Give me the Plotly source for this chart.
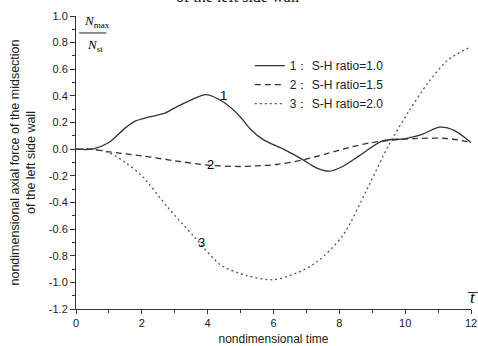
import plotly.graph_objects as go

# ---- data ----
t1 = [0, 0.5, 1.0, 1.5, 1.8, 2.2, 2.7, 3.0, 3.5, 3.95, 4.5, 5.0, 5.3, 5.7, 6.3, 6.9, 7.3, 7.7, 8.1, 8.6, 9.3, 10.0, 10.5, 11.05, 11.5, 12.0]
v1 = [0, 0, 0.05, 0.16, 0.21, 0.24, 0.27, 0.31, 0.37, 0.41, 0.35, 0.24, 0.15, 0.07, 0.0, -0.08, -0.14, -0.165, -0.13, -0.05, 0.06, 0.08, 0.11, 0.165, 0.14, 0.05]

t2 = [0, 0.5, 1.0, 2.0, 3.0, 4.0, 5.0, 5.5, 6.1, 6.9, 7.6, 8.3, 9.0, 9.5, 10.3, 11.3, 12.0]
v2 = [0, 0, -0.02, -0.05, -0.087, -0.12, -0.13, -0.125, -0.115, -0.08, -0.035, 0.013, 0.05, 0.065, 0.08, 0.08, 0.05]

t3 = [0, 0.5, 1.0, 1.5, 2.0, 2.8, 3.6, 4.4, 5.2, 6.0, 6.7, 7.3, 8.1, 8.9, 9.5, 10.1, 10.7, 11.3, 12.0]
v3 = [0, 0, -0.025, -0.1, -0.2, -0.44, -0.66, -0.87, -0.95, -0.98, -0.93, -0.85, -0.65, -0.27, 0.03, 0.28, 0.5, 0.67, 0.77]

names = ["1\uff1a S-H ratio=1.0", "2\uff1a S-H ratio=1.5", "3\uff1a S-H ratio=2.0"]
curve_labels = ["1", "2", "3"]
label_pos = [(4.48, 0.40), (4.1, -0.115), (3.8, -0.70)]

xticks = [0, 2, 4, 6, 8, 10, 12]
yticks = [1.0, 0.8, 0.6, 0.4, 0.2, 0.0, -0.2, -0.4, -0.6, -0.8, -1.0, -1.2]

SANS = "Liberation Sans, Arial, sans-serif"
SERIF = "Liberation Serif, Times New Roman, serif"

fig = go.Figure()
fig.add_trace(go.Scatter(x=t1, y=v1, mode="lines", name=names[0],
                         line=dict(color="#333333", width=1.3, shape="spline", smoothing=0.8)))
fig.add_trace(go.Scatter(x=t2, y=v2, mode="lines", name=names[1],
                         line=dict(color="#333333", width=1.3, dash="6px,4px", shape="spline", smoothing=0.8)))
fig.add_trace(go.Scatter(x=t3, y=v3, mode="lines", name=names[2],
                         line=dict(color="#555555", width=1.3, dash="2px,3px", shape="spline", smoothing=0.8)))

for lab, (lx, ly) in zip(curve_labels, label_pos):
    fig.add_annotation(x=lx, y=ly, text=lab, showarrow=False,
                       font=dict(family=SANS, size=13, color="black"))

# N_max / N_st label
fig.add_annotation(xref="paper", yref="paper", x=0.015, y=0.945, xanchor="left", yanchor="bottom",
                   text="<i>N</i><sub>max</sub>",
                   showarrow=False, font=dict(family=SERIF, size=13, color="black"))
fig.add_annotation(xref="paper", yref="paper", x=0.022, y=0.935, xanchor="left", yanchor="top",
                   text="<i>N</i><sub>st</sub>",
                   showarrow=False, font=dict(family=SERIF, size=13, color="black"))
fig.add_shape(type="line", xref="paper", yref="paper", x0=0.008, x1=0.077, y0=0.942, y1=0.942,
              line=dict(color="#222", width=1))

# t-bar label
fig.add_annotation(xref="paper", yref="paper", x=0.993, y=0.0, xanchor="left", yanchor="bottom",
                   text="<i>t</i>",
                   showarrow=False, font=dict(family=SERIF, size=17, color="black"))
fig.add_shape(type="line", xref="paper", yref="paper", x0=0.992, x1=1.017, y0=0.056, y1=0.056,
              line=dict(color="#222", width=1))

# clipped title at top
fig.add_annotation(xref="paper", yref="paper", x=0.41, y=1.031, yanchor="bottom",
                   text="of the left side wall", showarrow=False,
                   font=dict(family=SERIF, size=16, color="#111"))

fig.update_layout(
    width=478, height=346,
    margin=dict(l=76, r=7, t=16, b=37),
    paper_bgcolor="white", plot_bgcolor="white",
    font=dict(family=SANS, size=11, color="#222"),
    legend=dict(x=0.44, y=0.88, xanchor="left", yanchor="top",
                bgcolor="rgba(0,0,0,0)", font=dict(family=SANS, size=12, color="#222"),
                tracegroupgap=0, itemwidth=30),
    showlegend=True,
)
fig.update_xaxes(range=[0, 12], tickvals=xticks, ticktext=[str(v) for v in xticks],
                 automargin=False,
                 showgrid=False, zeroline=False, showline=True, linecolor="#333", linewidth=1,
                 ticks="outside", ticklen=4, tickcolor="#333",
                 minor=dict(dtick=1, ticks="outside", ticklen=3, tickcolor="#333"),
                 title=dict(text="nondimensional time", font=dict(family=SANS, size=12), standoff=6),
                 tickfont=dict(family=SANS, size=11))
fig.update_yaxes(range=[-1.2, 1.0], tickvals=yticks, ticktext=[f"{v:.1f}" for v in yticks],
                 automargin=False,
                 showgrid=False, zeroline=False, showline=True, linecolor="#333", linewidth=1,
                 ticks="outside", ticklen=5, tickcolor="#333",
                 minor=dict(dtick=0.1, ticks="outside", ticklen=3, tickcolor="#333"),
                 title=dict(text="nondimensional axial force of the midsection<br>of the left side wall",
                            font=dict(family=SANS, size=12.5), standoff=10),
                 tickfont=dict(family=SANS, size=11))

fig.write_html("out.html")
